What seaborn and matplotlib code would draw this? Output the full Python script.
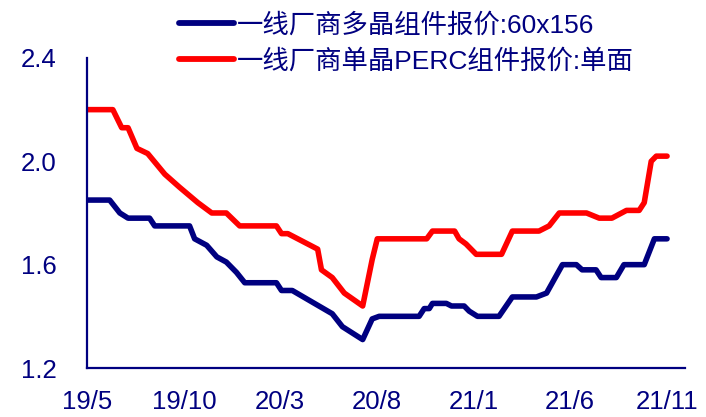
import matplotlib
matplotlib.use("Agg")
import matplotlib.pyplot as plt
import seaborn as sns
import pandas as pd

# 一线厂商多晶组件报价:60x156 (元/W)
poly_dates = ["2019-05-01", "2019-06-06", "2019-06-22", "2019-07-05", "2019-08-08",
              "2019-08-16", "2019-10-10", "2019-10-18", "2019-11-06", "2019-11-22",
              "2019-12-07", "2019-12-23", "2020-01-05", "2020-02-24", "2020-03-03",
              "2020-03-20", "2020-05-22", "2020-06-07", "2020-07-09", "2020-07-24",
              "2020-08-04", "2020-10-06", "2020-10-14", "2020-10-22", "2020-10-27",
              "2020-11-18", "2020-11-26", "2020-12-16", "2020-12-24", "2021-01-06",
              "2021-02-09", "2021-03-02", "2021-04-09", "2021-04-25", "2021-05-20",
              "2021-06-11", "2021-06-20", "2021-07-12", "2021-07-20", "2021-08-13",
              "2021-08-25", "2021-09-26", "2021-10-12", "2021-11-01"]
poly_price = [1.85, 1.85, 1.80, 1.78, 1.78,
              1.75, 1.75, 1.70, 1.675, 1.63,
              1.61, 1.57, 1.53, 1.53, 1.50,
              1.50, 1.41, 1.36, 1.31, 1.39,
              1.40, 1.40, 1.43, 1.43, 1.45,
              1.45, 1.44, 1.44, 1.42, 1.40,
              1.40, 1.475, 1.475, 1.49, 1.60,
              1.60, 1.58, 1.58, 1.55, 1.55,
              1.60, 1.60, 1.70, 1.70]

# 一线厂商单晶PERC组件报价:单面 (元/W)
perc_dates = ["2019-05-01", "2019-06-11", "2019-06-25", "2019-07-05", "2019-07-19",
              "2019-08-05", "2019-09-01", "2019-09-24", "2019-10-23", "2019-11-14",
              "2019-12-07", "2019-12-28", "2020-02-24", "2020-03-03", "2020-03-13",
              "2020-04-29", "2020-05-05", "2020-05-22", "2020-06-10", "2020-07-09",
              "2020-07-24", "2020-08-01", "2020-10-18", "2020-10-27", "2020-12-01",
              "2020-12-08", "2020-12-19", "2021-01-04", "2021-02-13", "2021-03-02",
              "2021-04-13", "2021-04-29", "2021-05-15", "2021-06-27", "2021-07-17",
              "2021-08-06", "2021-08-29", "2021-09-18", "2021-09-26", "2021-10-07",
              "2021-10-15", "2021-11-01"]
perc_price = [2.20, 2.20, 2.13, 2.13, 2.05,
              2.03, 1.95, 1.90, 1.84, 1.80,
              1.80, 1.75, 1.75, 1.72, 1.72,
              1.66, 1.58, 1.55, 1.49, 1.44,
              1.62, 1.70, 1.70, 1.73, 1.73,
              1.70, 1.68, 1.64, 1.64, 1.73,
              1.73, 1.75, 1.80, 1.80, 1.78,
              1.78, 1.81, 1.81, 1.84, 2.00,
              2.02, 2.02]

labels = ["一线厂商多晶组件报价:60x156", "一线厂商单晶PERC组件报价:单面"]
tick_dates = ["2019-05-01", "2019-10-01", "2020-03-01", "2020-08-01",
              "2021-01-01", "2021-06-01", "2021-11-01"]
tick_labels = ["19/5", "19/10", "20/3", "20/8", "21/1", "21/6", "21/11"]
y_ticks = [1.2, 1.6, 2.0, 2.4]

df = pd.concat([
    pd.DataFrame({"date": pd.to_datetime(poly_dates), "price": poly_price, "series": labels[0]}),
    pd.DataFrame({"date": pd.to_datetime(perc_dates), "price": perc_price, "series": labels[1]}),
])

navy = "#000080"
sns.set_style("white")
plt.rcParams["font.family"] = ["Liberation Sans", "Noto Sans CJK SC", "DejaVu Sans"]

fig = plt.figure(figsize=(7.06, 4.17), dpi=100)
ax = fig.add_axes([0.123, 0.1175, 0.847, 0.7435])

sns.lineplot(data=df, x="date", y="price", hue="series", hue_order=labels,
             palette=[navy, "#FF0000"], linewidth=4.0, ax=ax, legend=False,
             solid_capstyle="round", solid_joinstyle="round")

ax.set_ylim(1.2, 2.4)
ax.set_xlim(pd.Timestamp("2019-05-01"), pd.Timestamp("2021-11-29"))
ax.set_yticks(y_ticks)
ax.set_yticklabels([f"{v:.1f}" for v in y_ticks])
ax.set_xticks(pd.to_datetime(tick_dates))
ax.set_xticklabels(tick_labels)
ax.set_xlabel("")
ax.set_ylabel("")

for side in ["top", "right"]:
    ax.spines[side].set_visible(False)
for side in ["left", "bottom"]:
    ax.spines[side].set_color(navy)
    ax.spines[side].set_linewidth(1.6)

ax.tick_params(axis="both", direction="in", length=6, width=1.6, color=navy,
               labelcolor=navy, labelsize=18.5)
ax.tick_params(axis="y", pad=22)
ax.tick_params(axis="x", pad=16)
ax.patch.set_alpha(0)

handles = [plt.Line2D([], [], color=c, linewidth=4.2, solid_capstyle="round")
           for c in [navy, "#FF0000"]]
fig.legend(handles, labels, loc="upper left", bbox_to_anchor=(0.238, 0.995),
           frameon=False, fontsize=19, labelcolor=navy, handlelength=2.1,
           handletextpad=0.1, labelspacing=0.45, borderaxespad=0)

fig.savefig("out.png", dpi=100, facecolor="white")
